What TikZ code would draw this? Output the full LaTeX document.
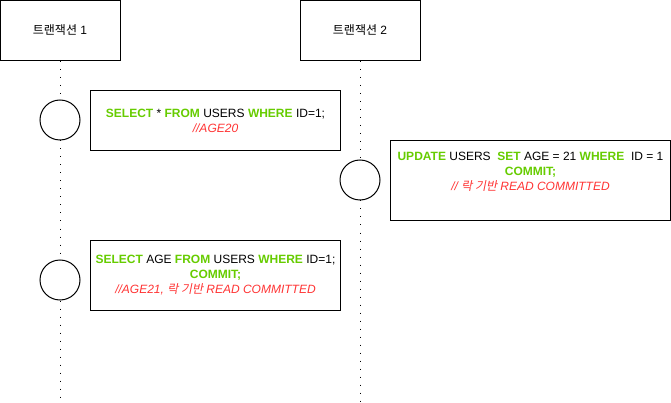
\documentclass[tikz,border=0pt]{standalone}
\usepackage{fontspec}
\setmainfont{Liberation Sans}
\newfontfamily\kr{Noto Sans CJK KR}
\newfontfamily\krit{Noto Sans CJK KR}[FakeSlant=0.2]
\usetikzlibrary{positioning}
\definecolor{sqlGreen}{HTML}{66CC00}
\definecolor{sqlRed}{HTML}{FF3333}
\newcommand{\kw}[1]{\textcolor{sqlGreen}{\textbf{#1}}}
\newcommand{\cm}[1]{\textcolor{sqlRed}{\itshape #1}}
\tikzset{
  every picture/.append style = {line width=1pt},
  txbox/.style   = {draw, rectangle, minimum width=120pt, minimum height=60pt, font=\fontsize{12}{15}\selectfont},
  stepdot/.style = {draw, circle, minimum size=40pt, inner sep=0pt},
  sqlbox/.style  = {draw, rectangle, align=center, inner sep=0pt, font=\fontsize{12}{15}\selectfont},
  lifeline/.style = {dash pattern=on 1pt off 7pt},
}
\begin{document}
\begin{tikzpicture}[x=1pt, y=-1pt]
  \useasboundingbox (0,0) rectangle (671,403);
  % transactions
  \node[txbox] (tx1) at (60,30.5) {{\kr 트랜잭션} 1};
  \node[txbox] (tx2) at (360,30.5) {{\kr 트랜잭션} 2};
  % steps on the lifelines
  \node[stepdot] (s1) at (60,120) {};
  \node[stepdot] (s2) at (360,180) {};
  \node[stepdot] (s3) at (60,280) {};
  \coordinate (end1) at (60,403);
  \coordinate (end2) at (360,403);
  \draw[lifeline] (tx1.south) -- (s1.north);
  \draw[lifeline] (s1.south) -- (s3.north);
  \draw[lifeline] (s3.south) -- (end1);
  \draw[lifeline] (tx2.south) -- (s2.north);
  \draw[lifeline] (s2.south) -- (end2);
  % queries
  \node[sqlbox, minimum width=250pt, minimum height=60pt] (q1) at (215.5,120.5)
    {\kw{SELECT} * \kw{FROM} USERS \kw{WHERE} ID=1;\\ \cm{//AGE20}};
  \node[sqlbox, minimum width=280pt, minimum height=80pt] (q2) at (530.5,180.5)
    {\kw{UPDATE} USERS\ \ \kw{SET} AGE = 21 \kw{WHERE}\ \ ID = 1\\ \kw{COMMIT;}\\
     \cm{// {\krit 락 기반} READ COMMITTED}\\[4pt]};
  \node[sqlbox, minimum width=250pt, minimum height=70pt] (q3) at (215.5,275.5)
    {\kw{SELECT} AGE \kw{FROM} USERS \kw{WHERE} ID=1;\\ \kw{COMMIT;}\\
     \cm{//AGE21, {\krit 락 기반} READ COMMITTED}};
\end{tikzpicture}
\end{document}
